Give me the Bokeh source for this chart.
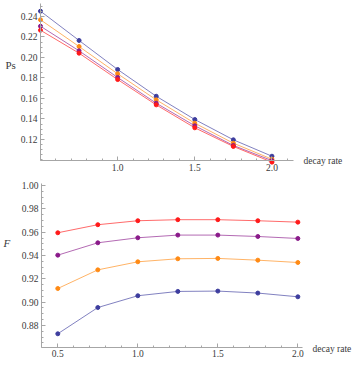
import numpy as np
from bokeh.plotting import figure
from bokeh.layouts import column
from bokeh.models import Range1d, FixedTicker, Label, PrintfTickFormatter, LinearAxis
from bokeh.embed import file_html
from bokeh.resources import INLINE

# ---- data ----
decay_rate = [0.5, 0.75, 1.0, 1.25, 1.5, 1.75, 2.0]

ps_blue = [0.2452, 0.2166, 0.1883, 0.1622, 0.1395, 0.1197, 0.1037]
ps_orange = [0.2368, 0.2107, 0.1841, 0.1587, 0.1359, 0.1164, 0.1008]
ps_purple = [0.2305, 0.2065, 0.1805, 0.1554, 0.1334, 0.1142, 0.0994]
ps_red = [0.2266, 0.2042, 0.1785, 0.1538, 0.1314, 0.1132, 0.0979]

f_blue = [0.8729, 0.8954, 0.9055, 0.9092, 0.9095, 0.9078, 0.9046]
f_orange = [0.9117, 0.9277, 0.9346, 0.9372, 0.9375, 0.9360, 0.9340]
f_purple = [0.9403, 0.9509, 0.9552, 0.9575, 0.9575, 0.9563, 0.9546]
f_red = [0.9595, 0.9664, 0.9698, 0.9707, 0.9707, 0.9698, 0.9686]

top_xticks = [1.0, 1.5, 2.0]
top_yticks = [0.12, 0.14, 0.16, 0.18, 0.20, 0.22, 0.24]
bot_xticks = [0.5, 1.0, 1.5, 2.0]
bot_yticks = [0.88, 0.90, 0.92, 0.94, 0.96, 0.98, 1.00]

colors = ["#3d3d9e", "#ff8a14", "#8a1a8a", "#ff1a1a"]

FONT = "Liberation Serif"
AXIS_COL = "#a6a6a6"
TEXT_COL = "#3a3a3a"


def make_axis(loc, bounds, ticks, minor, fmt):
    ax = LinearAxis(fixed_location=loc, bounds=bounds,
                    ticker=FixedTicker(ticks=ticks, minor_ticks=minor),
                    formatter=PrintfTickFormatter(format=fmt))
    ax.axis_line_color = AXIS_COL
    ax.major_tick_line_color = AXIS_COL
    ax.minor_tick_line_color = AXIS_COL
    ax.major_tick_in = 4
    ax.major_tick_out = 0
    ax.minor_tick_in = 2
    ax.minor_tick_out = 0
    ax.major_label_text_font = FONT
    ax.major_label_text_font_size = "9.5px"
    ax.major_label_text_color = TEXT_COL
    ax.major_label_standoff = 3
    return ax


def base_fig(h, xr, yr):
    p = figure(width=354, height=h, output_backend="svg", toolbar_location=None,
               x_range=Range1d(*xr), y_range=Range1d(*yr),
               x_axis_location=None, y_axis_location=None,
               min_border=0, min_border_left=0, min_border_right=0,
               min_border_top=0, min_border_bottom=0)
    p.grid.visible = False
    p.outline_line_color = None
    p.background_fill_color = "white"
    p.border_fill_color = "white"
    return p


def text_label(p, x, y, s, size="9.5px", style="normal"):
    p.add_layout(Label(x=x, y=y, text=s, text_font=FONT, text_font_size=size,
                       text_font_style=style, text_color=TEXT_COL,
                       text_baseline="middle", text_align="left"))


# ---- top plot: Ps ----
p1 = base_fig(180, (0.2408, 2.535), (0.0800, 0.2556))
p1.add_layout(make_axis(0.0995, (0.5, 2.14), top_xticks,
                        list(np.round(np.arange(0.5, 2.15, 0.1), 3)), "%.1f"), "below")
p1.add_layout(make_axis(0.5, (0.0995, 0.2527), top_yticks,
                        list(np.round(np.arange(0.10, 0.2526, 0.005), 4)), "%.2f"), "left")
for ys, c in zip([ps_blue, ps_orange, ps_purple, ps_red], colors):
    p1.line(decay_rate, ys, line_color=c, line_width=1, line_alpha=0.65)
    p1.scatter(decay_rate, ys, size=4, fill_color=c, line_color=c)
text_label(p1, 0.2732, 0.1922, "Ps", size="11px")
text_label(p1, 2.2045, 0.0995, "decay rate")

# ---- bottom plot: F ----
p2 = base_fig(185, (0.1419, 2.354), (0.8457, 1.0043))
p2.add_layout(make_axis(0.8614, (0.398, 2.027), bot_xticks,
                        list(np.round(np.arange(0.4, 2.03, 0.1), 3)), "%.1f"), "below")
p2.add_layout(make_axis(0.398, (0.8614, 1.0017), bot_yticks,
                        list(np.round(np.arange(0.865, 1.0016, 0.005), 4)), "%.2f"), "left")
for ys, c in zip([f_blue, f_orange, f_purple, f_red], colors):
    p2.line(decay_rate, ys, line_color=c, line_width=1, line_alpha=0.65)
    p2.scatter(decay_rate, ys, size=4, fill_color=c, line_color=c)
text_label(p2, 0.1607, 0.9503, "F", size="11px", style="italic")
text_label(p2, 2.0919, 0.8595, "decay rate")

layout = column(p1, p2)
open("out.html", "w").write(file_html(layout, INLINE))
